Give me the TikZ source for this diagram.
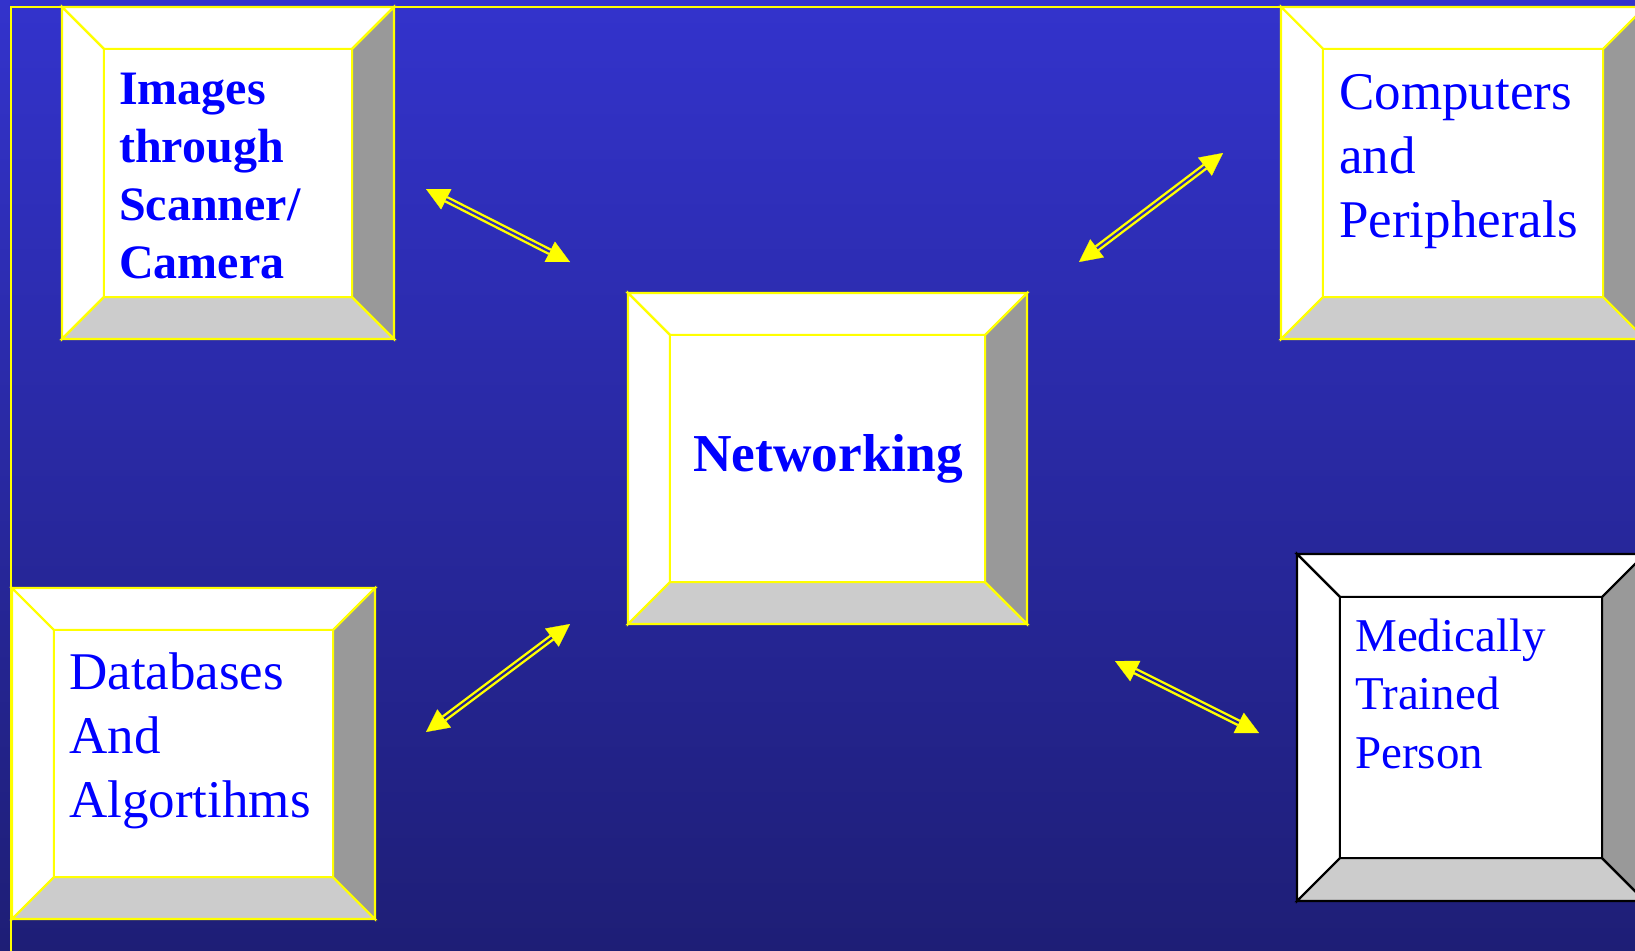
\documentclass[tikz,border=0pt]{standalone}
\usepackage{fontspec}
\setmainfont{Liberation Serif}
\usetikzlibrary{arrows.meta}
\definecolor{bgtop}{RGB}{51,51,204}
\definecolor{bgbot}{RGB}{30,30,118}
\definecolor{bevlight}{RGB}{204,204,204}
\definecolor{bevdark}{RGB}{153,153,153}
\definecolor{txtblue}{RGB}{0,0,255}
\definecolor{ylw}{RGB}{255,255,0}
\definecolor{gapA}{RGB}{46,46,184}
\definecolor{gapB}{RGB}{36,36,143}

\newcommand{\bevelbox}[6]{%
  \pgfmathsetmacro\bvxa{#1+#5}\pgfmathsetmacro\bvya{#2+#5}%
  \pgfmathsetmacro\bvxb{#3-#5}\pgfmathsetmacro\bvyb{#4-#5}%
  \begin{scope}[draw=#6, line width=1.6pt, line join=miter]
    \filldraw[fill=white] (#1,#2) -- (#3,#2) -- (\bvxb,\bvya) -- (\bvxa,\bvya) -- cycle;
    \filldraw[fill=white] (#1,#2) -- (\bvxa,\bvya) -- (\bvxa,\bvyb) -- (#1,#4) -- cycle;
    \filldraw[fill=bevlight] (#1,#4) -- (\bvxa,\bvyb) -- (\bvxb,\bvyb) -- (#3,#4) -- cycle;
    \filldraw[fill=bevdark] (#3,#2) -- (#3,#4) -- (\bvxb,\bvyb) -- (\bvxb,\bvya) -- cycle;
    \filldraw[fill=white] (\bvxa,\bvya) rectangle (\bvxb,\bvyb);
  \end{scope}}

\tikzset{
  lbl/.style={anchor=base west, inner sep=0pt, text=txtblue},
  heads/.style={draw=ylw, fill=ylw, line width=0.2pt,
    arrows={Triangle[length=17pt,width=17pt]-Triangle[length=17pt,width=17pt]}},
  shaft/.style={draw=ylw, line width=1.8pt, double=#1, double distance=1.6pt,
    shorten <=17pt, shorten >=17pt},
}

\begin{document}
\begin{tikzpicture}[x=0.75pt, y=-0.75pt]
  \useasboundingbox (0,0) rectangle (1635,950);
  \clip (0,0) rectangle (1635,950);
  \shade[top color=bgtop, bottom color=bgbot] (0,0) rectangle (1635,950);
  \draw[ylw, line width=1.5pt] (11,7) rectangle (1700,1000);

  % boxes
  \bevelbox{62}{7}{394}{339}{42}{ylw}
  \bevelbox{1281}{7}{1645}{339}{42}{ylw}
  \bevelbox{628}{293}{1027}{624}{42}{ylw}
  \bevelbox{12}{588}{375}{919}{42}{ylw}
  \bevelbox{1297}{554}{1645}{901}{43}{black}

  % texts
  \node[lbl] (images) at (119,104) {\parbox[t]{300pt}{\fontsize{36}{43.5}\selectfont\bfseries Images\\through\\Scanner/\\Camera}};
  \node[lbl] (computers) at (1339,109) {\parbox[t]{300pt}{\fontsize{39.75}{48}\selectfont Computers\\and\\Peripherals}};
  \node[lbl] (networking) at (693,471) {\fontsize{40}{48}\selectfont\bfseries Networking};
  \node[lbl] (databases) at (69,689) {\parbox[t]{300pt}{\fontsize{39.75}{48}\selectfont Databases\\And\\Algortihms}};
  \node[lbl] (medically) at (1355,651) {\parbox[t]{300pt}{\fontsize{35.25}{43.9}\selectfont Medically\\Trained\\Person}};

  % arrow ends
  \coordinate (a1s) at (426,189); \coordinate (a1e) at (570,262);
  \coordinate (a2s) at (1079,262); \coordinate (a2e) at (1223,153);
  \coordinate (a3s) at (426,732); \coordinate (a3e) at (570,624);
  \coordinate (a4s) at (1115,661); \coordinate (a4e) at (1259,733);

  \draw[heads] (a1s) -- (a1e);
  \draw[shaft=gapA] (a1s) -- (a1e);
  \draw[heads] (a2s) -- (a2e);
  \draw[shaft=gapA] (a2s) -- (a2e);
  \draw[heads] (a3s) -- (a3e);
  \draw[shaft=gapB] (a3s) -- (a3e);
  \draw[heads] (a4s) -- (a4e);
  \draw[shaft=gapB] (a4s) -- (a4e);
\end{tikzpicture}
\end{document}
